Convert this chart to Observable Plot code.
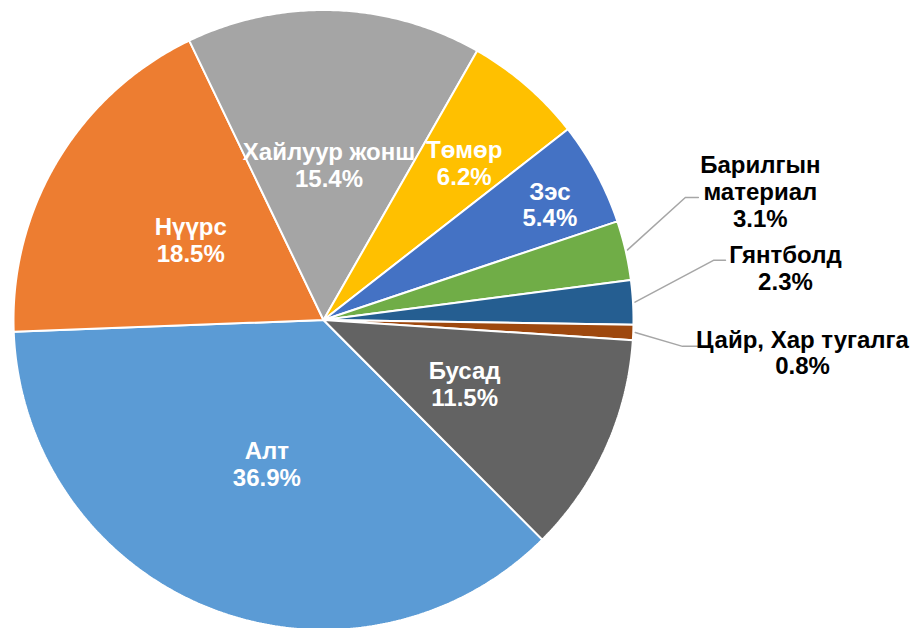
<!DOCTYPE html>
<html><head><meta charset="utf-8">
<script src="https://cdn.jsdelivr.net/npm/d3@7"></script>
<script src="https://cdn.jsdelivr.net/npm/@observablehq/plot@0.6"></script>
<style>body{margin:0;background:#fff}</style>
</head><body><div id="chart"></div>
<script>
// ---- data ----
const categories = ["Алт","Нүүрс","Хайлуур жонш","Төмөр","Зэс","Барилгын материал","Гянтболд","Цайр, Хар тугалга","Бусад"];
const shares = [36.9, 18.5, 15.4, 6.2, 5.4, 3.1, 2.3, 0.8, 11.5];
const labelNames = ["Алт","Нүүрс","Хайлуур жонш","Төмөр","Зэс","Барилгын\nматериал","Гянтболд","Цайр, Хар тугалга","Бусад"];
const colors = ["#5B9BD5","#ED7D31","#A5A5A5","#FFC000","#4472C4","#70AD47","#255E91","#9E480E","#636363"];

// ---- layout ----
const W = 915, H = 628, cx = 323, cy = 319.5, R = 310, startDeg = 135.1;
const insideLayout = {"Алт":[0.5,0],"Нүүрс":[0.5,0],"Хайлуур жонш":[0.5,0],"Төмөр":[0.68,1],"Зэс":[0.82,1.2],"Бусад":[0.5,0]};
// elbow radius, elbow angle (deg), horizontal run, text dx, text dy
const outsideLayout = {
  "Барилгын материал":[382,71.3,13,62,-6],
  "Гянтболд":[394.5,81.3,12,60,8],
  "Цайр, Хар тугалга":[360,94.2,15,105,6]
};

const rows = categories.map((name,i)=>({name, share: shares[i], label: labelNames[i] + "\n" + shares[i].toFixed(1) + "%"}));
const rad = d => d*Math.PI/180;
const arcs = d3.pie().sort(null).value(d=>d.share)
  .startAngle(rad(startDeg)).endAngle(rad(startDeg)+2*Math.PI)(rows);
const pt = (a, r) => ({x: cx + r*Math.sin(a), y: cy - r*Math.cos(a)});

const slicePts = [];
arcs.forEach(a => {
  slicePts.push({name: a.data.name, ...pt(0,0)});
  const n = Math.max(2, Math.ceil((a.endAngle - a.startAngle)/rad(0.5)));
  for (let k=0;k<=n;k++){
    const ang = a.startAngle + (a.endAngle - a.startAngle)*k/n;
    slicePts.push({name: a.data.name, ...pt(ang, R)});
  }
  slicePts.push({name: a.data.name, ...pt(0,0)});
});

const insideLabels = [], outsideLabels = [], leaders = [];
arcs.forEach(a => {
  const mid = (a.startAngle + a.endAngle)/2;
  const name = a.data.name;
  if (insideLayout[name]) {
    const [f, da] = insideLayout[name];
    insideLabels.push({label: a.data.label, ...pt(mid + rad(da), R*f)});
  } else {
    const [er, ed, run, tdx, tdy] = outsideLayout[name];
    const s = pt(mid, R+2), e = pt(rad(ed), er);
    const end = {x: e.x + run, y: e.y};
    leaders.push({name, ...s},{name, ...e},{name, ...end});
    outsideLabels.push({label: a.data.label, x: end.x + tdx, y: end.y + tdy});
  }
});

const font = "'Liberation Sans', Arial, sans-serif";
const chart = Plot.plot({
  width: W, height: H, margin: 0,
  x: {domain:[0,W], range:[0,W], axis:null},
  y: {domain:[0,H], range:[0,H], axis:null},
  color: {domain: categories, range: colors},
  style: {background:"#fff"},
  marks: [
    Plot.line(slicePts, {x:"x", y:"y", z:"name", fill:"name", stroke:"white", strokeWidth:2, strokeLinejoin:"miter", curve:"linear"}),
    Plot.line(leaders, {x:"x", y:"y", z:"name", stroke:"#A6A6A6", strokeWidth:1.5, curve:"linear"}),
    Plot.text(insideLabels, {x:"x", y:"y", text:"label", fill:"white", fontSize:24, fontWeight:"bold", fontFamily:font, lineHeight:1.12}),
    Plot.text(outsideLabels, {x:"x", y:"y", text:"label", fill:"black", fontSize:24, fontWeight:"bold", fontFamily:font, lineHeight:1.12})
  ]
});
document.getElementById("chart").appendChild(chart);
</script>
</body></html>
